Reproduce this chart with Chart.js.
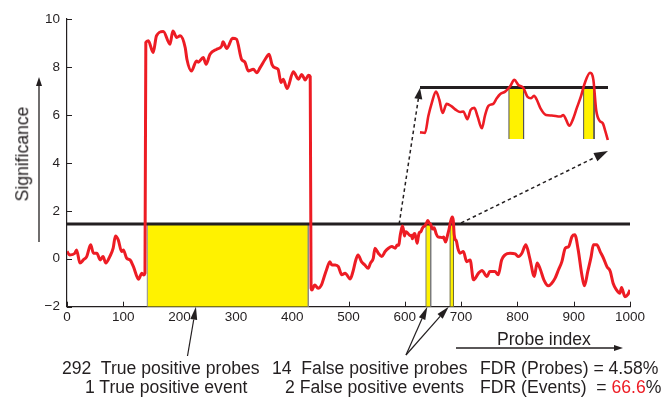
<!DOCTYPE html>
<html>
<head>
<meta charset="utf-8">
<script src="https://cdn.jsdelivr.net/npm/chart.js@4.4.1/dist/chart.umd.min.js"></script>
<style>
  body { margin: 0; background: #fff; }
  #wrap { position: relative; width: 669px; height: 400px; overflow: hidden;
          font-family: "Liberation Sans", Arial, sans-serif; color: #231f20; }
  #mainChart { position: absolute; left: 0; top: 0; }
  #zoomChart { position: absolute; left: 410px; top: 50px; }
  .lbl { position: absolute; font-size: 17.6px; line-height: 1; white-space: pre; }
  .red { color: #ed1c24; }
  #yTitle { left: 23px; top: 154px; transform: translate(-50%, -50%) rotate(-90deg); }
</style>
</head>
<body>
<div id="wrap">
  <canvas id="mainChart" width="669" height="400"></canvas>
  <canvas id="zoomChart" width="208" height="100"></canvas>
  <div class="lbl" id="yTitle">Significance</div>
  <div class="lbl" style="left:497px; top:331px;">Probe index</div>
  <div class="lbl" style="left:62px; top:360px;">292  True positive probes</div>
  <div class="lbl" style="left:272px; top:360px;">14  False positive probes</div>
  <div class="lbl" style="left:480px; top:360px;">FDR (Probes) = 4.58%</div>
  <div class="lbl" style="left:85px; top:379px;">1 True positive event</div>
  <div class="lbl" style="left:285px; top:379px;">2 False positive events</div>
  <div class="lbl" style="left:480px; top:379px;">FDR (Events)  = <span class="red">66.6</span>%</div>
</div>

<script>
// probe positions and smoothed significance along the profile
const probeIdx = [
    0, 5, 14, 17, 23, 29, 35, 42, 47, 53, 59, 64, 69, 76, 82, 86, 91, 97, 100, 106, 112, 118, 127, 133, 136, 138.5,
    140, 144.5, 153, 159, 171, 183, 188, 195, 201, 210, 213, 221, 230, 233, 242, 247, 254, 266, 275, 277, 284,
    294, 301, 310, 316, 322, 331, 337, 343, 352, 359, 364, 369, 375, 380, 384, 391, 402, 411, 417, 423, 429, 432,
    433.5, 435, 440, 446, 452, 456, 461, 467, 470, 476, 482, 488, 494, 503, 508, 513, 517, 523, 529, 535, 539,
    544, 547, 553, 559, 565, 571, 577, 583,
    586.5, 589.4, 591.3, 593.2, 595.7, 597.6, 599.5, 601.8, 604.7, 607.2, 609.5, 611.4, 613.7, 615.6, 617.7,
    619.6, 622.0, 623.9, 625.8, 628.6, 630.6, 632.5, 635.4, 638.2, 640.7, 643.0, 645.9, 648.2, 650.3, 652.0,
    653.6, 655.9, 658.9, 662.2, 667.0, 668.9, 670.4, 672.3, 674.3, 676.6, 678.9, 681.3, 684.2, 686.1, 687.7,
    689.6, 691.5, 693.0, 694.4,
    698, 704, 710, 716, 722, 731, 737, 746, 751, 760, 766, 772, 778, 787, 796, 802, 808, 815, 822, 830, 835,
    841, 847, 855, 861, 867, 873, 879, 885, 891, 897, 902, 908, 914, 919, 925, 931, 935, 941, 947, 953, 959,
    965, 970, 976, 982, 985, 991, 996, 1000
];
const significance = [
    0.30, 0.16, 0.23, 0.37, -0.18, -0.05, 0.09, 0.58, 0.23, 0.23, -0.05, 0.09, -0.18, 0.09, 0.44, 0.95, 0.79,
    0.30, 0.37, 0.02, -0.05, -0.33, -0.85, -0.60, -0.68, -0.60,
    9.02, 9.09, 8.60, 9.30, 9.48, 8.95, 9.50, 9.23, 9.30, 8.80, 8.32, 7.83, 8.25, 8.20, 8.39, 8.11, 8.53,
    8.74, 8.88, 9.05, 8.77, 9.20, 9.16, 8.32, 8.20, 7.83, 7.90, 7.76, 7.97, 8.32, 8.53, 8.11, 7.97, 7.90,
    7.35, 7.49, 7.10, 7.80, 7.49, 7.69, 7.46, 7.65, 7.60,
    -1.23, -1.30, -1.09, -1.23, -1.09, -0.81, -0.46, -0.12, -0.25, -0.26, -0.33, -0.67, -0.60, -0.84, -0.53,
    -0.05, 0.16, -0.12, -0.26, -0.40, -0.18, 0.02, 0.44, 0.23, 0.09, 0.30, 0.44, 0.51, 0.44,
    0.57, 0.56, 0.89, 1.14, 1.37, 1.21, 0.95, 1.13, 1.08, 1.01, 0.97, 0.98, 0.83, 1.01, 1.05, 0.88, 0.65,
    0.91, 1.09, 1.13, 1.24, 1.32, 1.37, 1.47, 1.60, 1.50, 1.44, 1.27, 1.24, 1.29, 1.21, 1.03, 0.91, 0.90,
    0.88, 0.91, 0.82, 0.70, 0.82, 1.05, 1.27, 1.55, 1.74, 1.60, 1.01, 0.80, 0.75, 0.59, 0.42,
    0.23, 0.30, -0.12, -0.05, -0.88, -0.60, -0.49, -0.74, -0.53, -0.53, -0.67, -0.05, 0.16, 0.23, 0.20,
    0.09, 0.23, 0.58, 0.02, -0.74, -0.18, -0.46, -0.88, -1.13, -1.02, -0.81, -0.46, -0.12, 0.44, 0.51, 0.93,
    1.00, 0.37, -0.60, -1.13, -0.53, 0.09, 0.58, 0.58, 0.30, 0.02, -0.33, -0.53, -1.02, -1.30, -1.44, -1.20,
    -1.58, -1.50, -1.30
];

const threshold = 1.45;
// called events (first one true, the other two false positives)
const eventStart = [142.6, 637.6, 680.5];
const eventEnd = [428.6, 646.0, 686.5];

const xTickValues = [0, 100, 200, 300, 400, 500, 600, 700, 800, 900, 1000];
const yTickValues = [-2, 0, 2, 4, 6, 8, 10];

// magnified window shown top right
const zoomProbes = [586.5, 694.5];
const zoomSig = [0.44, 1.99];

const INK = '#231f20';
const RED = '#ed1c24';
const YELLOW = '#fff200';
const INSET = { left: 420, top: 60, width: 188, height: 79 };

function profilePoints(from, to) {
    const pts = [];
    probeIdx.forEach((x, i) => {
        if (x >= from && x <= to) pts.push({ x: x, y: significance[i] });
    });
    return pts;
}

function eventBox(i, bottom, border) {
    return {
        data: [
            { x: eventStart[i], y: bottom },
            { x: eventStart[i], y: threshold },
            { x: eventEnd[i], y: threshold },
            { x: eventEnd[i], y: bottom }
        ],
        borderColor: border,
        borderWidth: 1,
        backgroundColor: YELLOW,
        fill: 'start',
        pointRadius: 0,
        tension: 0
    };
}

function drawArrow(ctx, x1, y1, x2, y2, o) {
    const ang = Math.atan2(y2 - y1, x2 - x1);
    const bx = x2 - o.head * Math.cos(ang);
    const by = y2 - o.head * Math.sin(ang);
    const hw = o.width / 2;
    ctx.save();
    ctx.strokeStyle = INK;
    ctx.fillStyle = INK;
    ctx.lineWidth = o.lineWidth || 1.2;
    ctx.setLineDash(o.dash || []);
    ctx.beginPath();
    ctx.moveTo(x1, y1);
    ctx.lineTo(bx, by);
    ctx.stroke();
    ctx.setLineDash([]);
    ctx.beginPath();
    ctx.moveTo(x2, y2);
    ctx.lineTo(bx + hw * Math.sin(ang), by - hw * Math.cos(ang));
    ctx.lineTo(bx - hw * Math.sin(ang), by + hw * Math.cos(ang));
    ctx.closePath();
    ctx.fill();
    ctx.restore();
}

// ticks point into the plot area
const innerTicks = {
    id: 'innerTicks',
    beforeDatasetsDraw(chart) {
        const { ctx, chartArea, scales } = chart;
        ctx.save();
        ctx.strokeStyle = INK;
        ctx.lineWidth = 1;
        ctx.beginPath();
        xTickValues.forEach(v => {
            const px = Math.round(scales.x.getPixelForValue(v)) + 0.5;
            ctx.moveTo(px, chartArea.bottom);
            ctx.lineTo(px, chartArea.bottom - 5);
        });
        yTickValues.forEach(v => {
            const py = Math.round(scales.y.getPixelForValue(v)) + 0.5;
            ctx.moveTo(chartArea.left, py);
            ctx.lineTo(chartArea.left + 5, py);
        });
        ctx.stroke();
        ctx.restore();
    }
};

const callouts = {
    id: 'callouts',
    afterDraw(chart) {
        const { ctx, chartArea, scales } = chart;
        const x = v => scales.x.getPixelForValue(v);
        const yT = scales.y.getPixelForValue(threshold);
        const bottom = chartArea.bottom;

        // axis direction arrows
        drawArrow(ctx, 39, 242, 39, 77, { head: 9, width: 6, lineWidth: 1.3 });
        drawArrow(ctx, 456, 348, 623, 348, { head: 9, width: 6, lineWidth: 1.3 });

        // counts pointing at the called regions
        drawArrow(ctx, 187.5, 356, x(229), bottom, { head: 13, width: 7, lineWidth: 1.2 });
        drawArrow(ctx, 406, 355, x(640), bottom, { head: 13, width: 7, lineWidth: 1.2 });
        drawArrow(ctx, 406, 355, x(678), bottom, { head: 13, width: 7, lineWidth: 1.2 });

        // dashed guides into the magnified window
        drawArrow(ctx, x(590), yT, INSET.left, INSET.top + 28,
            { head: 11, width: 8, lineWidth: 1.5, dash: [3.5, 3] });
        drawArrow(ctx, x(700), yT - 1, INSET.left + INSET.width, INSET.top + 91,
            { head: 14, width: 9, lineWidth: 1.5, dash: [3.5, 3] });
    }
};

new Chart(document.getElementById('mainChart').getContext('2d'), {
    type: 'line',
    data: {
        datasets: [
            {
                data: profilePoints(0, 1000),
                borderColor: RED,
                borderWidth: 3,
                pointRadius: 0,
                cubicInterpolationMode: 'monotone',
                fill: false
            },
            {
                data: [{ x: 0, y: threshold }, { x: 1000, y: threshold }],
                borderColor: INK,
                borderWidth: 3,
                pointRadius: 0,
                fill: false
            },
            eventBox(0, -2, '#8a8a8a'),
            eventBox(1, -2, '#7a7a7a'),
            eventBox(2, -2, '#6e6a3a')
        ]
    },
    options: {
        responsive: false,
        animation: false,
        layout: { padding: { top: 19, right: 39, left: 0, bottom: 0 } },
        plugins: { legend: { display: false }, tooltip: { enabled: false } },
        scales: {
            x: {
                type: 'linear',
                min: 0,
                max: 1000,
                afterBuildTicks: s => { s.ticks = xTickValues.map(v => ({ value: v })); },
                afterFit: s => { s.height = 93.3; },
                ticks: {
                    color: INK,
                    padding: 2,
                    font: { family: 'Liberation Sans', size: 13.5 },
                    callback: v => String(v)
                },
                grid: { drawOnChartArea: false, drawTicks: false },
                border: { color: INK, width: 1.2 }
            },
            y: {
                min: -2,
                max: 10,
                afterBuildTicks: s => { s.ticks = yTickValues.map(v => ({ value: v })); },
                afterFit: s => { s.width = 67; },
                ticks: {
                    color: INK,
                    padding: 7,
                    font: { family: 'Liberation Sans', size: 13.5 },
                    callback: v => String(v).replace('-', '\u2212')
                },
                grid: { drawOnChartArea: false, drawTicks: false },
                border: { color: INK, width: 1.2 }
            }
        }
    },
    plugins: [innerTicks, callouts]
});

// magnified view of the two false positive calls
new Chart(document.getElementById('zoomChart').getContext('2d'), {
    type: 'line',
    data: {
        datasets: [
            {
                data: profilePoints(zoomProbes[0], zoomProbes[1]),
                borderColor: RED,
                borderWidth: 2.6,
                pointRadius: 0,
                cubicInterpolationMode: 'monotone',
                fill: false,
                clip: false
            },
            {
                data: [{ x: zoomProbes[0], y: threshold }, { x: zoomProbes[1], y: threshold }],
                borderColor: INK,
                borderWidth: 3,
                pointRadius: 0,
                fill: false,
                clip: false
            },
            eventBox(1, zoomSig[0], '#555555'),
            eventBox(2, zoomSig[0], '#555555')
        ]
    },
    options: {
        responsive: false,
        animation: false,
        layout: { padding: { left: 10, right: 10, top: 10, bottom: 11 } },
        plugins: { legend: { display: false }, tooltip: { enabled: false } },
        scales: {
            x: { type: 'linear', display: false, min: zoomProbes[0], max: zoomProbes[1] },
            y: { display: false, min: zoomSig[0], max: zoomSig[1] }
        }
    }
});
</script>
</body>
</html>
